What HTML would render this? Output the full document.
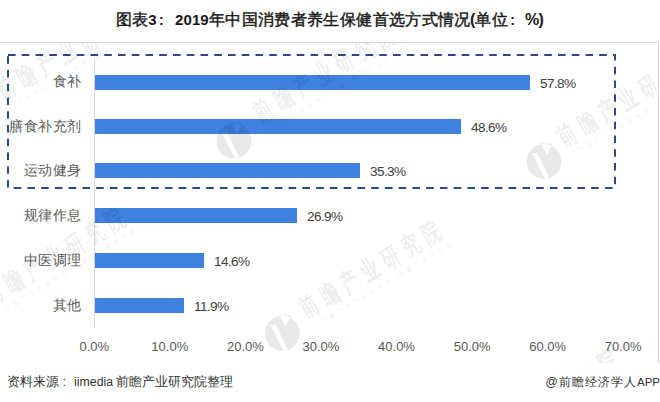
<!DOCTYPE html>
<html><head><meta charset="utf-8">
<style>
html,body{margin:0;padding:0;background:#fff;}
body{width:660px;height:402px;position:relative;overflow:hidden;font-family:"Liberation Sans",sans-serif;}
.abs{position:absolute;white-space:nowrap;}
.ttl{top:10px;font-size:16px;font-weight:normal;color:#1a1a1a;-webkit-text-stroke:0.45px #1a1a1a;line-height:20px;letter-spacing:0.38px;}
.ttl .n{font-size:15px;letter-spacing:0.1px;font-weight:bold;-webkit-text-stroke:0;}
.frame{position:absolute;left:-2px;top:42px;width:660px;height:320px;border-top:1px solid #d6d6d6;border-right:1px solid #d6d6d6;}
.axis{position:absolute;left:94px;top:59px;width:1px;height:269px;background:#d9d9d9;}
.bar{position:absolute;left:95px;height:15px;background:#3e81de;}
.yl{position:absolute;right:578.1px;font-size:14px;letter-spacing:0.6px;color:#595959;line-height:16px;text-align:right;}
.vl{position:absolute;font-size:13.6px;color:#404040;line-height:16px;letter-spacing:-0.6px;}
.xl{position:absolute;top:339px;font-size:13px;color:#595959;line-height:16px;width:60px;text-align:center;}
#src{left:6.7px;top:374px;font-size:13px;color:#333;line-height:16px;}
#app{right:0px;top:374px;font-size:12px;color:#333;line-height:16px;letter-spacing:1.05px;}
#app .e{font-size:11.5px;letter-spacing:0;}
svg{position:absolute;left:0;top:0;}
</style></head><body>
<div class="abs ttl" style="left:115.5px">图表<span class="n">3</span></div>
<div class="abs ttl" style="left:159px"><span class="n" style="font-size:14px">:</span></div>
<div class="abs ttl" style="left:175px"><span class="n">2019</span>年中国消费者养生保健首选方式情况</div>
<div class="abs ttl" style="left:470px"><span class="n" style="font-size:16px">(</span>单位<span class="n" style="font-size:14px;margin-left:2px">:</span><span class="n" style="margin-left:10px;font-size:16px;letter-spacing:-0.6px">%)</span></div>
<div class="frame"></div>
<div class="axis"></div>
<div class="bar" style="top:75px;width:435px"></div>
<div class="bar" style="top:119px;width:366px"></div>
<div class="bar" style="top:163px;width:265px"></div>
<div class="bar" style="top:208px;width:202px"></div>
<div class="bar" style="top:253px;width:109px"></div>
<div class="bar" style="top:298px;width:89px"></div>
<div class="yl" style="top:73px">食补</div>
<div class="yl" style="top:118px">膳食补充剂</div>
<div class="yl" style="top:162px">运动健身</div>
<div class="yl" style="top:207px">规律作息</div>
<div class="yl" style="top:252px">中医调理</div>
<div class="yl" style="top:297px">其他</div>
<div class="vl" style="left:540px;top:75.5px">57.8%</div>
<div class="vl" style="left:471px;top:119.5px">48.6%</div>
<div class="vl" style="left:370px;top:163.5px">35.3%</div>
<div class="vl" style="left:307px;top:208.5px">26.9%</div>
<div class="vl" style="left:214px;top:253.5px">14.6%</div>
<div class="vl" style="left:194px;top:298.5px">11.9%</div>
<div class="xl" style="left:64.3px">0.0%</div>
<div class="xl" style="left:139.8px">10.0%</div>
<div class="xl" style="left:215.4px">20.0%</div>
<div class="xl" style="left:290.9px">30.0%</div>
<div class="xl" style="left:366.5px">40.0%</div>
<div class="xl" style="left:442.1px">50.0%</div>
<div class="xl" style="left:517.6px">60.0%</div>
<div class="xl" style="left:593.1px">70.0%</div>

<svg width="660" height="402">
<rect x="8" y="55" width="607" height="133" fill="none" stroke="#274a8c" stroke-width="2" stroke-dasharray="7.6 6.15"/>
</svg>
<svg width="660" height="402">
<defs><clipPath id="cp"><rect x="0" y="43" width="657" height="320"/></clipPath></defs>
<g clip-path="url(#cp)" font-family="Liberation Sans, sans-serif" fill="#000" fill-opacity="0.085">
  <g transform="translate(308.0,321.0) rotate(-31) scale(0.66,1)">
    <text x="0" y="-3" font-size="26" letter-spacing="9.9" font-weight="bold">前瞻产业研究院</text>
    <text x="18" y="10" font-size="6.5" letter-spacing="7" font-weight="bold" fill-opacity="0.06">中国产业咨询领导者(前瞻产业研究院)</text>
  </g>
  <g transform="translate(566.0,150.0) rotate(-31) scale(0.66,1)">
    <text x="0" y="-3" font-size="26" letter-spacing="9.9" font-weight="bold">前瞻产业研究院</text>
    <text x="18" y="10" font-size="6.5" letter-spacing="7" font-weight="bold" fill-opacity="0.06">中国产业咨询领导者(前瞻产业研究院)</text>
  </g>
  <g transform="translate(261.8,124.7) rotate(-31) scale(0.66,1)">
    <text x="0" y="-3" font-size="26" letter-spacing="9.9" font-weight="bold">前瞻产业研究院</text>
    <text x="18" y="10" font-size="6.5" letter-spacing="7" font-weight="bold" fill-opacity="0.06">中国产业咨询领导者(前瞻产业研究院)</text>
  </g>
  <g transform="translate(5.0,103.0) rotate(-31) scale(0.66,1)">
    <text x="0" y="-3" font-size="26" letter-spacing="9.9" font-weight="bold">前瞻产业研究院</text>
    <text x="18" y="10" font-size="6.5" letter-spacing="7" font-weight="bold" fill-opacity="0.06">中国产业咨询领导者(前瞻产业研究院)</text>
  </g>
  <g transform="translate(-8.0,308.0) rotate(-31) scale(0.66,1)">
    <text x="0" y="-3" font-size="26" letter-spacing="9.9" font-weight="bold">前瞻产业研究院</text>
    <text x="18" y="10" font-size="6.5" letter-spacing="7" font-weight="bold" fill-opacity="0.06">中国产业咨询领导者(前瞻产业研究院)</text>
  </g>
  <g transform="translate(485.0,450.0) rotate(-31) scale(0.66,1)">
    <text x="0" y="-3" font-size="26" letter-spacing="9.9" font-weight="bold">前瞻产业研究院</text>
    <text x="18" y="10" font-size="6.5" letter-spacing="7" font-weight="bold" fill-opacity="0.06">中国产业咨询领导者(前瞻产业研究院)</text>
  </g>
  <path d="M282.40,315.80 A17.5,17.5 0 1,1 282.39,315.80 Z M270.40,325.30 L275.40,324.30 L288.40,350.80 L283.40,350.80 Z M279.40,314.80 L291.40,315.80 L285.40,326.30 Z" fill-rule="evenodd"/>
  <path d="M544.00,143.90 A17.5,17.5 0 1,1 543.99,143.90 Z M532.00,153.40 L537.00,152.40 L550.00,178.90 L545.00,178.90 Z M541.00,142.90 L553.00,143.90 L547.00,154.40 Z" fill-rule="evenodd"/>
  <path d="M234.00,123.50 A17.5,17.5 0 1,1 233.99,123.50 Z M222.00,133.00 L227.00,132.00 L240.00,158.50 L235.00,158.50 Z M231.00,122.50 L243.00,123.50 L237.00,134.00 Z" fill-rule="evenodd"/>
</g>
</svg>
<div id="src" class="abs">资料来源<span style="margin-left:3.8px">:</span><span style="margin-left:8px;font-size:12.3px">iimedia</span><span style="margin-left:2.5px">前瞻产业研究院整理</span></div>
<div id="app" class="abs">@前瞻经济学人<span class="e">APP</span></div>
</body></html>
